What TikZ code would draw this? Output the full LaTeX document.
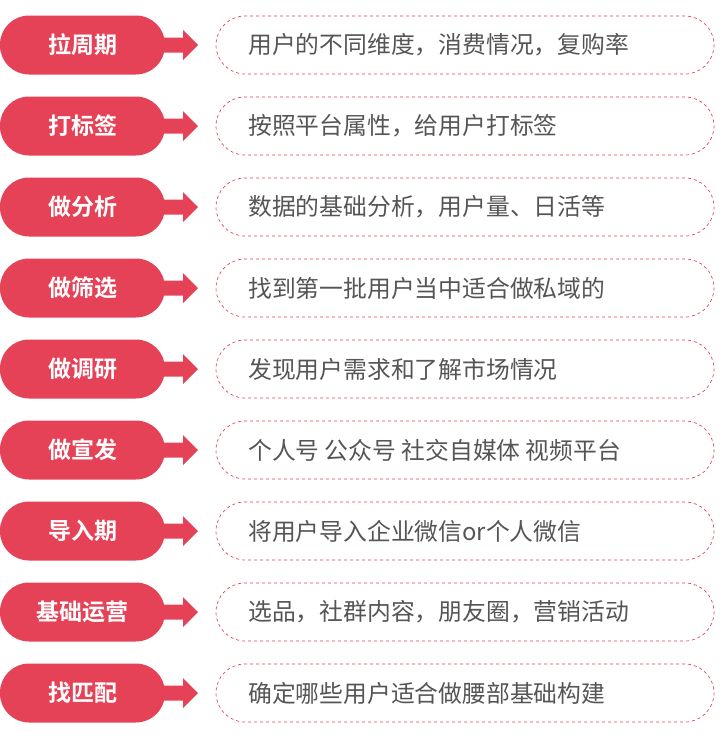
\documentclass[tikz,border=0pt]{standalone}
\usepackage{fontspec}
\newfontfamily\cjk{Noto Sans CJK SC}
\newfontfamily\cjkb{Noto Sans CJK SC Bold}
\definecolor{rd}{HTML}{E64257}
\definecolor{tx}{HTML}{555555}
\begin{document}
\begin{tikzpicture}[x=1pt,y=-1pt,
 pill/.style={fill=rd,rounded corners=29pt,minimum width=165pt,minimum height=59pt,inner sep=0pt,text=white,font=\cjkb\fontsize{23}{23}\selectfont},
 desc/.style={draw=rd,dashed,line width=0.7pt,rounded corners=29pt,minimum width=498pt,minimum height=58pt,inner sep=0pt,text=tx,font=\cjk\fontsize{23.8}{23.8}\selectfont},
 lbl/.style={inner sep=0pt,anchor=west,text=tx,font=\cjk\fontsize{23.8}{23.8}\selectfont}]
\useasboundingbox (0,0) rectangle (725,739);
\foreach \i/\a/\b in {0/拉周期/用户的不同维度，消费情况，复购率,1/打标签/按照平台属性，给用户打标签,2/做分析/数据的基础分析，用户量、日活等,3/做筛选/找到第一批用户当中适合做私域的,4/做调研/发现用户需求和了解市场情况,5/做宣发/个人号 公众号 社交自媒体 视频平台,6/导入期/将用户导入企业微信or个人微信,7/基础运营/选品，社群内容，朋友圈，营销活动,8/找匹配/确定哪些用户适合做腰部基础构建}{
 \pgfmathsetmacro\y{45+81*\i}
 \node[pill] (p\i) at (82.5,\y) {\a};
 \node[desc] (d\i) at (465,\y) {};
 \node[lbl] (t\i) at (248,\y) {\b};
 \fill[rd] (158,\y-7.5) -- (183,\y-7.5) -- (183,\y-15) -- (198,\y) -- (183,\y+15) -- (183,\y+7.5) -- (158,\y+7.5) -- cycle;
}
\end{tikzpicture}
\end{document}
